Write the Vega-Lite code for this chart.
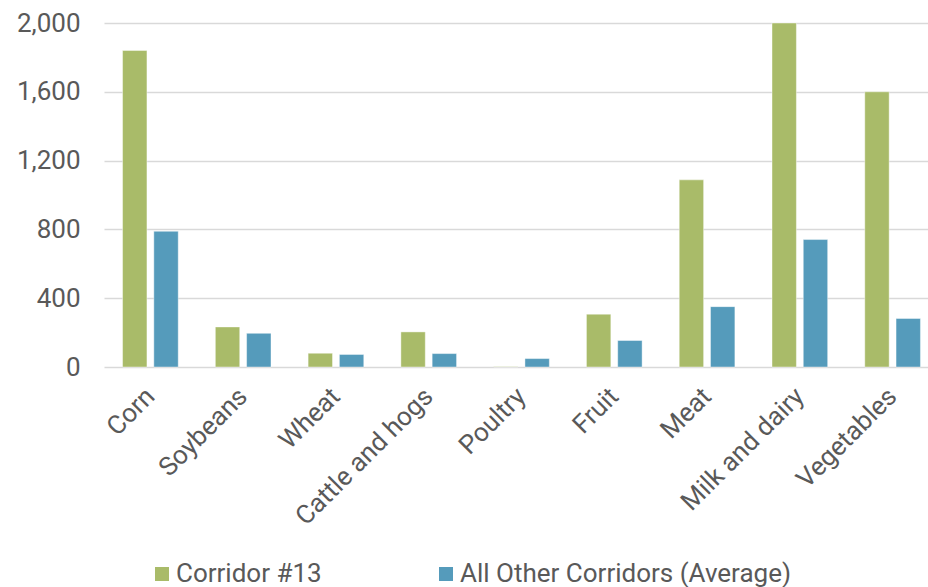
{
  "$schema": "https://vega.github.io/schema/vega-lite/v6.json",
  "autosize": {"type": "none"},
  "width": 835,
  "height": 344,
  "padding": {"left": 104, "top": 23, "right": 0, "bottom": 220},
  "background": "white",
  "config": {
    "font": "Roboto",
    "view": {"stroke": null}
  },
  "data": {
    "values": [
      {"category": "Corn", "series": "Corridor #13", "value": 1840},
      {"category": "Corn", "series": "All Other Corridors (Average)", "value": 789},
      {"category": "Soybeans", "series": "Corridor #13", "value": 233},
      {"category": "Soybeans", "series": "All Other Corridors (Average)", "value": 196},
      {"category": "Wheat", "series": "Corridor #13", "value": 80},
      {"category": "Wheat", "series": "All Other Corridors (Average)", "value": 73},
      {"category": "Cattle and hogs", "series": "Corridor #13", "value": 204},
      {"category": "Cattle and hogs", "series": "All Other Corridors (Average)", "value": 78},
      {"category": "Poultry", "series": "Corridor #13", "value": 2},
      {"category": "Poultry", "series": "All Other Corridors (Average)", "value": 49},
      {"category": "Fruit", "series": "Corridor #13", "value": 307},
      {"category": "Fruit", "series": "All Other Corridors (Average)", "value": 154},
      {"category": "Meat", "series": "Corridor #13", "value": 1088},
      {"category": "Meat", "series": "All Other Corridors (Average)", "value": 351},
      {"category": "Milk and dairy", "series": "Corridor #13", "value": 2000},
      {"category": "Milk and dairy", "series": "All Other Corridors (Average)", "value": 741},
      {"category": "Vegetables", "series": "Corridor #13", "value": 1600},
      {"category": "Vegetables", "series": "All Other Corridors (Average)", "value": 282}
    ]
  },
  "mark": {"type": "bar", "stroke": "white", "strokeWidth": 0.6, "strokeOpacity": 0.7},
  "encoding": {
    "x": {
      "field": "category",
      "type": "nominal",
      "sort": null,
      "scale": {"paddingInner": 0.4, "paddingOuter": 0.2},
      "axis": {
        "title": null,
        "labelAngle": -45,
        "labelAlign": "right",
        "labelBaseline": "middle",
        "labelFontSize": 26,
        "labelColor": "#595959",
        "labelPadding": 25,
        "labelLimit": 400,
        "labelOverlap": false,
        "ticks": false,
        "domain": false,
        "grid": false
      }
    },
    "xOffset": {
      "field": "series",
      "type": "nominal",
      "sort": ["Corridor #13", "All Other Corridors (Average)"],
      "scale": {"paddingInner": 0.22, "paddingOuter": 0}
    },
    "y": {
      "field": "value",
      "type": "quantitative",
      "scale": {"domain": [0, 2000], "nice": false},
      "axis": {
        "title": null,
        "values": [0, 400, 800, 1200, 1600, 2000],
        "format": ",.0f",
        "labelFontSize": 26,
        "labelColor": "#595959",
        "labelPadding": 24,
        "ticks": false,
        "domain": false,
        "gridColor": "#d9d9d9",
        "gridWidth": 1.5
      }
    },
    "color": {
      "field": "series",
      "type": "nominal",
      "sort": ["Corridor #13", "All Other Corridors (Average)"],
      "scale": {"domain": ["Corridor #13", "All Other Corridors (Average)"], "range": ["#a9bb69", "#559bbb"]},
      "legend": {
        "title": null,
        "orient": "none",
        "direction": "horizontal",
        "legendX": 45,
        "legendY": 538,
        "symbolType": "square",
        "symbolSize": 196,
        "symbolStrokeWidth": 0,
        "symbolOpacity": 1,
        "labelFontSize": 26,
        "labelColor": "#595959",
        "labelOffset": 1,
        "columnPadding": 111,
        "labelLimit": 400
      }
    }
  }
}
